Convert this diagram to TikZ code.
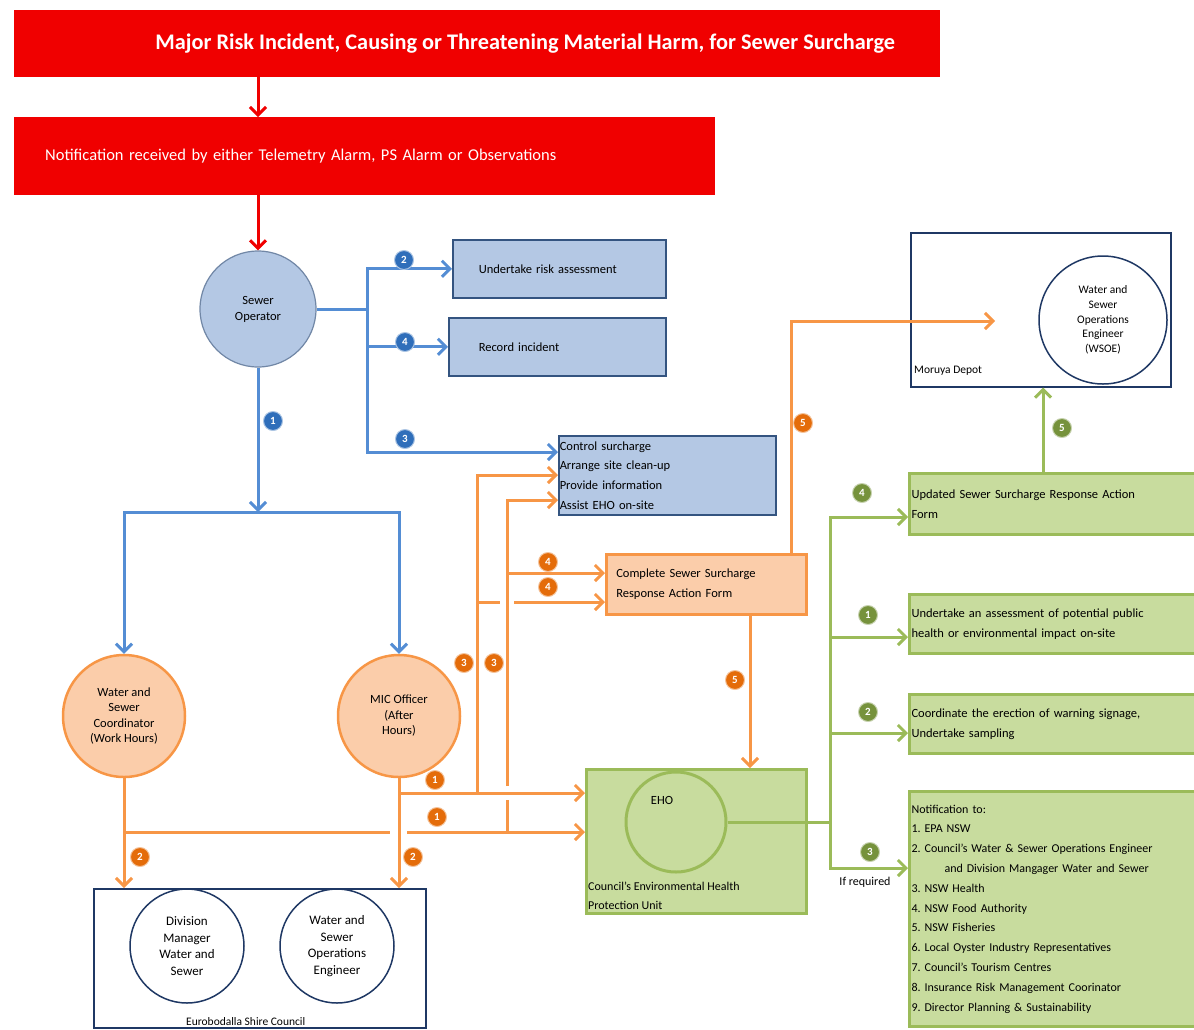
\documentclass[tikz,border=0pt]{standalone}
\usepackage{fontspec}
\setmainfont{Carlito}
\usetikzlibrary{arrows.meta}
\frenchspacing

\definecolor{alarmred}{RGB}{240,0,0}
\definecolor{opblue}{RGB}{84,141,212}
\definecolor{opfill}{RGB}{180,200,228}
\definecolor{opedge}{RGB}{52,84,128}
\definecolor{opbadge}{RGB}{47,110,186}
\definecolor{resporange}{RGB}{247,150,70}
\definecolor{respfill}{RGB}{251,205,170}
\definecolor{respbadge}{RGB}{228,108,10}
\definecolor{ehogreen}{RGB}{155,187,89}
\definecolor{ehofill}{RGB}{200,220,158}
\definecolor{ehobadge}{RGB}{118,146,60}
\definecolor{council}{RGB}{31,56,100}

\begin{document}
\begin{tikzpicture}[x=1pt,y=-1pt,>={Straight Barb[length=8pt,width=16pt]},
  font=\fontsize{12.5}{20}\selectfont,
  banner/.style={rectangle,fill=alarmred,text=white,anchor=north west,inner sep=0pt},
  opbox/.style={rectangle,draw=opedge,line width=1.5pt,fill=opfill,anchor=north west,inner sep=0pt,align=left},
  opnode/.style={circle,draw=opedge!70,line width=1.2pt,fill=opfill,minimum size=116pt,inner sep=0pt,align=center,font=\fontsize{12.5}{16}\selectfont},
  respnode/.style={circle,draw=resporange,line width=2.5pt,fill=respfill,minimum size=122pt,inner sep=0pt,align=center,font=\fontsize{12.5}{15.5}\selectfont},
  respbox/.style={rectangle,draw=resporange,line width=2.5pt,fill=respfill,anchor=north west,inner sep=0pt,align=left},
  ehobox/.style={rectangle,draw=ehogreen,line width=3pt,fill=ehofill,anchor=north west,inner sep=0pt,align=left},
  cncbox/.style={rectangle,draw=council,line width=1.5pt,anchor=north west,inner sep=0pt},
  cncnode/.style={circle,draw=council,line width=1.5pt,minimum size=114pt,inner sep=0pt,align=center,font=\fontsize{13}{16.7}\selectfont},
  badge/.style={circle,fill=#1,draw=#1!40,line width=1pt,text=white,minimum size=19pt,inner sep=0pt,font=\bfseries\fontsize{11}{11}\selectfont},
  redline/.style={draw=alarmred,line width=3pt},
  blueline/.style={draw=opblue,line width=3pt},
  orline/.style={draw=resporange,line width=3pt},
  grline/.style={draw=ehogreen,line width=3pt}]
  \useasboundingbox (0,0) rectangle (1194,1029);

  % alarm banners
  \node[banner,minimum width=926pt,minimum height=67pt,font=\bfseries\fontsize{22.3}{26}\selectfont] (major) at (14,10)
    {\hspace*{96pt}Major Risk Incident, Causing or Threatening Material Harm, for Sewer Surcharge};
  \node[banner,minimum width=701pt,minimum height=78pt,text width=639pt,align=left,font=\fontsize{16.5}{20}\selectfont] (notif) at (14,117)
    {Notification received by either Telemetry Alarm, PS Alarm or Observations\\[10pt]};

  % sewer operator and tasks
  \node[opnode] (sewop) at (258,309) {Sewer\\Operator};
  \node[opbox,minimum width=213pt,minimum height=58pt,text width=161pt] (risk) at (452,239) {Undertake risk assessment};
  \node[opbox,minimum width=217pt,minimum height=58pt,text width=157pt] (record) at (448,317) {Record incident};
  \node[opbox,minimum width=217pt,minimum height=79pt,text width=215pt,font=\fontsize{12.5}{19.7}\selectfont] (control) at (558,435)
    {Control surcharge\\Arrange site clean-up\\Provide information\\Assist EHO on-site};

  % coordinators and council
  \node[respnode] (coord) at (124,716) {Water and\\Sewer\\Coordinator\\(Work Hours)};
  \node[respnode] (mic) at (399,716) {MIC Officer\\(After\\Hours)};
  \node[respbox,minimum width=200pt,minimum height=60pt,text width=180pt] (form) at (605,553)
    {Complete Sewer Surcharge\\Response Action Form};
  \node[cncbox,minimum width=332pt,minimum height=139pt,
    label={[anchor=south,inner sep=0pt,xshift=-14pt,yshift=3pt,font=\fontsize{11.5}{14}\selectfont]south:Eurobodalla Shire Council}] (council) at (93,888) {};
  \node[cncnode] (divman) at (187,946) {Division\\Manager\\Water and\\Sewer};
  \node[cncnode] (opseng) at (337,946) {Water and\\Sewer\\Operations\\Engineer};

  % depot
  \node[cncbox,minimum width=260pt,minimum height=154pt,
    label={[anchor=south west,inner sep=0pt,xshift=4pt,yshift=12pt,font=\fontsize{11.5}{14}\selectfont]south west:Moruya Depot}] (depot) at (910,232) {};
  \node[cncnode,minimum size=128pt,font=\fontsize{11.5}{14.7}\selectfont] (wsoe) at (1103,320) {Water and\\Sewer\\Operations\\Engineer\\(WSOE)};

  % EHO and follow-up
  \node[ehobox,minimum width=220pt,minimum height=144pt,
    label={[anchor=south west,inner sep=0pt,xshift=3pt,yshift=5pt,align=left,font=\fontsize{12}{19}\selectfont]south west:Council's Environmental Health\\Protection Unit}] (eho) at (585,768) {};
  \node[circle,draw=ehogreen,line width=3pt,minimum size=100pt] (ehoc) at (676,822) {};
  \node (ehotxt) at (662,800) {EHO};
  \node[ehobox,minimum width=295pt,minimum height=61pt,text width=291pt] (updated) at (908,472)
    {Updated Sewer Surcharge Response Action\\Form};
  \node[ehobox,minimum width=295pt,minimum height=59pt,text width=291pt] (assess) at (908,593)
    {Undertake an assessment of potential public\\health or environmental impact on-site};
  \node[ehobox,minimum width=295pt,minimum height=59pt,text width=291pt] (signage) at (908,693)
    {Coordinate the erection of warning signage,\\Undertake sampling};
  \node[ehobox,minimum width=295pt,minimum height=235pt,text width=291pt,font=\fontsize{12}{19.8}\selectfont] (notify) at (908,790)
    {Notification to:\\1. EPA NSW\\2. Council's Water \& Sewer Operations Engineer\\\hspace*{33pt}and Division Mangager Water and Sewer\\3. NSW Health\\4. NSW Food Authority\\5. NSW Fisheries\\6. Local Oyster Industry Representatives\\7. Council's Tourism Centres\\8. Insurance Risk Management Coorinator\\9. Director Planning \& Sustainability};
  \node[font=\fontsize{12}{14}\selectfont] (ifreq) at (865,882) {If required};

  % alarm path
  \draw[redline,->] (major.south -| sewop) -- (notif.north -| sewop);
  \draw[redline,->] (notif.south -| sewop) -- (sewop.north);

  % sewer operator actions
  \coordinate (opfork) at (367,309);
  \coordinate (ctrlin) at (367,452);
  \coordinate (split) at (258,512);
  \draw[blueline] (sewop.east) -- (opfork);
  \draw[blueline,<->] (risk.west) -- (opfork |- risk) -- (ctrlin) -- (ctrlin -| control.west);
  \draw[blueline,->] (opfork |- record) -- (record.west);
  \draw[blueline,->] (sewop.south) -- (split);
  \draw[blueline,<->] (coord.north) -- (split -| coord) -- (split -| mic) -- (mic.north);

  % response officers
  \coordinate (ehoA) at (399,793);
  \coordinate (ehoB) at (124,832);
  \coordinate (upA) at (477,475);
  \coordinate (upB) at (507,500);
  \coordinate (formA) at (507,573);
  \coordinate (formB) at (477,602);
  \coordinate (depotin) at (995,321);
  \coordinate (formup) at (791,553);
  \coordinate (formdn) at (750,613);
  \draw[orline,->] (coord.south) -- (coord |- council.north);
  \draw[orline,->] (mic.south) -- (mic |- council.north);
  \draw[orline] (ehoB) -- ([xshift=-9pt]ehoB -| mic);
  \draw[orline,->] ([xshift=8pt]ehoB -| mic) -- (ehoB -| eho.west);
  \draw[orline,->] (ehoA) -- (ehoA -| eho.west);
  \draw[orline,->] (ehoA -| upA) -- (upA) -- (upA -| control.west);
  \draw[orline] (ehoB -| upB) -- ([yshift=-7pt]ehoA -| upB);
  \draw[orline,->] ([yshift=7pt]ehoA -| upB) -- (upB) -- (upB -| control.west);
  \draw[orline,->] (formA) -- (formA -| form.west);
  \draw[orline] (formB) -- ([xshift=-7pt]formB -| upB);
  \draw[orline,->] ([xshift=7pt]formB -| upB) -- (formB -| form.west);
  \draw[orline,->] (formup) -- (formup |- depotin) -- (depotin);
  \draw[orline,->] (formdn) -- (formdn |- eho.north);

  % EHO actions
  \coordinate (gr1) at (830,517);
  \coordinate (gr2) at (830,637);
  \coordinate (gr3) at (830,733);
  \coordinate (gr4) at (830,868);
  \coordinate (wsoeup) at (1043,472);
  \draw[grline] (ehoc.east) -- (ehoc.east -| gr1);
  \draw[grline,<->] (gr1 -| updated.west) -- (gr1) -- (gr4) -- (gr4 -| notify.west);
  \draw[grline,->] (gr2) -- (gr2 -| assess.west);
  \draw[grline,->] (gr3) -- (gr3 -| signage.west);
  \draw[grline,->] (wsoeup) -- (wsoeup |- depot.south);

  % step numbers
  \node[badge=opbadge] (bop1) at (273,421) {1};
  \node[badge=opbadge] (bop2) at (404,260) {2};
  \node[badge=opbadge] (bop3) at (405,439) {3};
  \node[badge=opbadge] (bop4) at (405,342) {4};
  \node[badge=respbadge] (bco2) at (140,857) {2};
  \node[badge=respbadge] (bmi2) at (413,857) {2};
  \node[badge=respbadge] (bmi1a) at (435,780) {1};
  \node[badge=respbadge] (bmi1b) at (437,817) {1};
  \node[badge=respbadge] (bmi3a) at (464,663) {3};
  \node[badge=respbadge] (bmi3b) at (494,663) {3};
  \node[badge=respbadge] (bfm4a) at (548,562) {4};
  \node[badge=respbadge] (bfm4b) at (548,587) {4};
  \node[badge=respbadge] (bfm5a) at (803,423) {5};
  \node[badge=respbadge] (bfm5b) at (735,680) {5};
  \node[badge=ehobadge] (beh4) at (862,493) {4};
  \node[badge=ehobadge] (beh1) at (868,615) {1};
  \node[badge=ehobadge] (beh2) at (868,712) {2};
  \node[badge=ehobadge] (beh3) at (870,852) {3};
  \node[badge=ehobadge] (beh5) at (1062,428) {5};
\end{tikzpicture}
\end{document}
